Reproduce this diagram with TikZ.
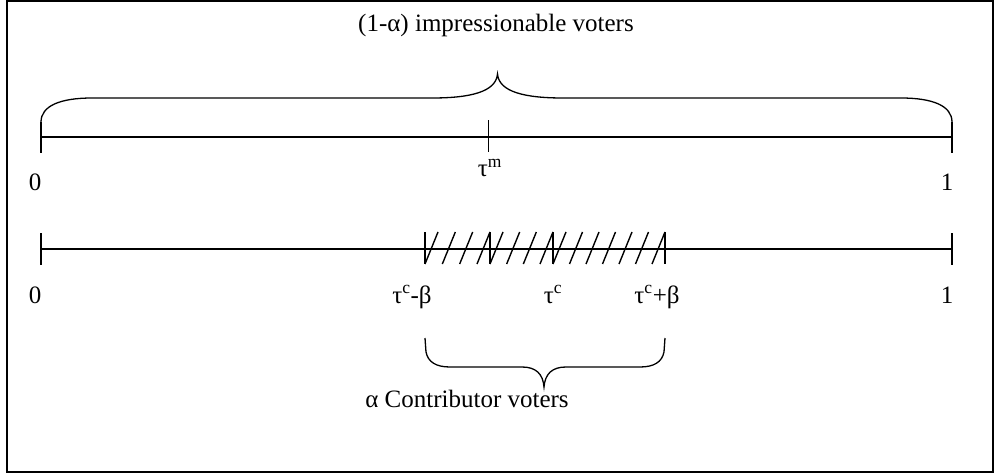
\documentclass[tikz,border=0pt]{standalone}
\usepackage{fontspec}
\setmainfont{Liberation Serif}
\begin{document}
\begin{tikzpicture}[x=1pt,y=-1pt,
  lbl/.style={font=\fontsize{25}{30}\selectfont, inner sep=0pt, anchor=base},
  axisline/.style={line width=2pt},
  tickline/.style={line width=1.8pt},
  brc/.style={line width=1.3pt},
  hatchline/.style={line width=1.4pt},
  frameline/.style={line width=2pt}]
\path[use as bounding box] (0,0) rectangle (994,476);
\draw[frameline] (7,1.5) rectangle (992.5,472);

% ---- top axis ----
\coordinate (a0) at (41,136.7);
\coordinate (a1) at (952,136.7);
\coordinate (am) at (488.5,136.7);
\draw[axisline] (a0) -- (a1);
\draw[tickline] (41,122) -- (41,153);
\draw[tickline] (952,122) -- (952,153);
\draw[tickline] (488.5,120.5) -- (488.5,152);

% top brace
\draw[brc] (41,122) .. controls (41,106) and (60,98) .. (92,98) -- (432,98)
  .. controls (470,98) and (496,92) .. (497.5,74)
  .. controls (499,92) and (525,98) .. (563,98) -- (901,98)
  .. controls (933,98) and (952,106) .. (952,122);

\node[lbl] (title) at (496,32) {(1-α) impressionable voters};
\node[lbl] (z0) at (35,190) {0};
\node[lbl] (o1) at (947,190) {1};
\node[lbl] (tm) at (490,177) {τ\textsuperscript{m}};

% ---- bottom axis ----
\coordinate (b0) at (41,248.5);
\coordinate (b1) at (952,248.5);
\draw[axisline] (b0) -- (b1);
\draw[tickline] (41,233) -- (41,265);
\draw[tickline] (952,233) -- (952,265);

% hatched region
\foreach \xv in {425,490,553,665}{
  \draw[hatchline] (\xv,232) -- (\xv,264);
}
% segment 1: 425..490, 4 strokes
\foreach \i in {0,...,3}{
  \pgfmathsetmacro{\xb}{425+\i*(65-13)/3}
  \draw[hatchline] (\xb,264) -- (\xb+13,232);
}
% segment 2: 490..553, 4 strokes
\foreach \i in {0,...,3}{
  \pgfmathsetmacro{\xb}{490+\i*(63-13)/3}
  \draw[hatchline] (\xb,264) -- (\xb+13,232);
}
% segment 3: 553..665, 7 strokes
\foreach \i in {0,...,6}{
  \pgfmathsetmacro{\xb}{553+\i*(112-13)/6}
  \draw[hatchline] (\xb,264) -- (\xb+13,232);
}

\node[lbl] (z0b) at (35,303) {0};
\node[lbl] (o1b) at (947,303) {1};
\node[lbl] (tcm) at (412,303) {τ\textsuperscript{c}-β};
\node[lbl] (tc) at (553,303) {τ\textsuperscript{c}};
\node[lbl] (tcp) at (657,303) {τ\textsuperscript{c}+β};

% bottom brace
\draw[brc] (425,338) -- (426,352) .. controls (428,362) and (436,367) .. (450,367) -- (522,367)
  .. controls (536,367) and (543,374) .. (544,387)
  .. controls (545,374) and (552,367) .. (566,367) -- (640,367)
  .. controls (654,367) and (662,362) .. (664,352) -- (665,338);

\node[lbl] (contrib) at (467,407) {α Contributor voters};
\end{tikzpicture}
\end{document}
